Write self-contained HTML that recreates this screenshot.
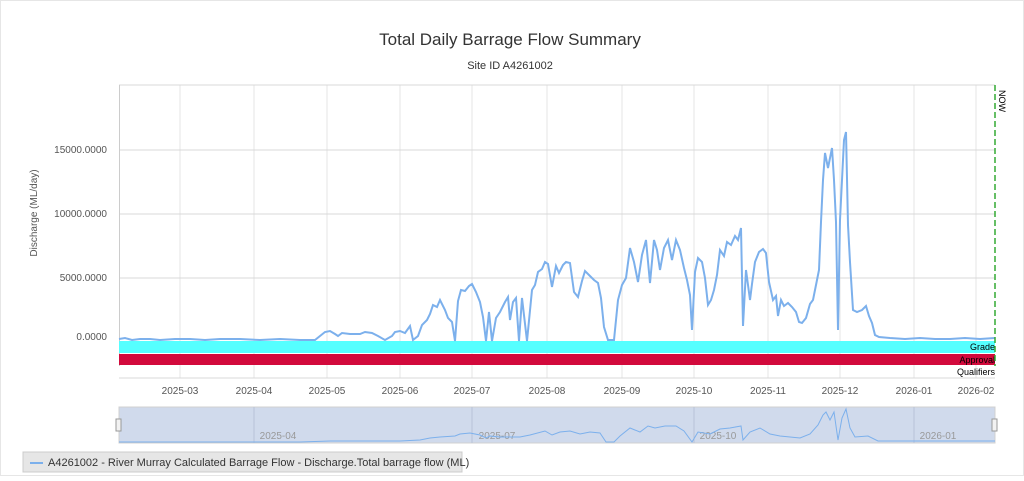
<!DOCTYPE html>
<html><head><meta charset="utf-8"><style>
body{margin:0;background:#fff;width:1024px;height:476px;overflow:hidden;font-family:"Liberation Sans",sans-serif}
</style></head><body>
<svg width="1024" height="476" xmlns="http://www.w3.org/2000/svg" font-family="Liberation Sans, sans-serif">
<rect x="0.5" y="0.5" width="1023" height="475" fill="#fff" stroke="#e6e6e6"/>
<text x="510" y="45" font-size="17" text-anchor="middle" fill="#333">Total Daily Barrage Flow Summary</text>
<text x="510" y="69" font-size="11" text-anchor="middle" fill="#333">Site ID A4261002</text>
<g stroke="#e6e6e6" stroke-width="1">
<line x1="180" y1="85" x2="180" y2="378"/><line x1="254" y1="85" x2="254" y2="378"/><line x1="327" y1="85" x2="327" y2="378"/><line x1="400" y1="85" x2="400" y2="378"/><line x1="472" y1="85" x2="472" y2="378"/><line x1="547" y1="85" x2="547" y2="378"/><line x1="622" y1="85" x2="622" y2="378"/><line x1="694" y1="85" x2="694" y2="378"/><line x1="768" y1="85" x2="768" y2="378"/><line x1="840" y1="85" x2="840" y2="378"/><line x1="914" y1="85" x2="914" y2="378"/><line x1="976" y1="85" x2="976" y2="378"/>
</g>
<g stroke="#d8d8d8"><line x1="119" y1="150" x2="995" y2="150"/><line x1="119" y1="214" x2="995" y2="214"/><line x1="119" y1="278" x2="995" y2="278"/><line x1="119" y1="85" x2="995" y2="85"/><line x1="119" y1="378" x2="995" y2="378"/></g>
<line x1="119.5" y1="85" x2="119.5" y2="366" stroke="#ccc"/>
<g font-size="10" fill="#555" text-anchor="end"><text x="107" y="153">15000.0000</text><text x="107" y="217">10000.0000</text><text x="107" y="281">5000.0000</text><text x="107" y="340">0.0000</text></g>
<text transform="translate(37,213) rotate(-90)" font-size="10" fill="#555" text-anchor="middle">Discharge (ML/day)</text>
<rect x="119" y="341" width="876" height="12" fill="#55ffff"/>
<rect x="119" y="354" width="876" height="11" fill="#d20a3c"/>
<g font-size="9" fill="#000" text-anchor="end"><text x="995" y="350">Grade</text><text x="995" y="363">Approval</text><text x="995" y="375">Qualifiers</text></g>
<polyline fill="none" stroke="#7cb0ec" stroke-width="2" points="119,339 125,338 132,340 140,339 150,339 160,340 175,339 190,339 205,340 220,339 240,339 260,340 280,339 300,340 305,340 315,340 320,336 325,332 330,331 335,334 338,336 342,333 350,334 360,334 365,332 372,333 378,336 385,340 392,336 395,332 400,331 405,333 410,326 413,340 418,336 422,325 427,320 430,314 433,305 437,307 440,300 445,310 448,318 452,322 455,341 458,301 461,290 465,291 469,286 472,284 476,292 480,302 483,317 486,341 489,312 492,341 496,318 500,312 505,302 508,297 510,320 513,302 516,298 519,341 522,298 527,341 532,290 535,285 538,272 542,269 545,262 548,264 552,287 556,266 559,273 563,265 566,262 570,263 574,292 578,297 582,281 585,271 590,276 594,280 598,283 601,298 604,327 608,340 614,340 618,300 622,285 626,278 630,248 634,262 638,282 642,255 646,240 650,283 654,240 657,250 660,270 664,248 668,240 672,260 676,240 680,250 684,268 687,280 690,295 692,330 695,272 698,258 702,262 705,278 708,305 711,300 714,290 717,275 720,250 724,256 727,242 731,245 735,236 738,240 741,228 743,326 746,270 750,300 752,284 755,262 759,252 763,249 766,253 769,282 773,300 776,296 778,316 781,300 784,306 788,303 792,307 796,312 799,322 802,323 806,318 810,304 813,300 816,285 819,270 821,222 823,180 825,153 828,168 830,158 832,148 834,180 836,222 838,330 840,220 842,180 844,140 846,132 848,225 850,262 853,310 857,312 862,310 866,306 869,316 872,323 875,335 879,337 890,338 905,339 920,338 935,339 950,339 965,338 980,339 995,338"/>
<line x1="995" y1="85" x2="995" y2="366" stroke="#3a3" stroke-width="1.5" stroke-dasharray="6,3"/>
<text transform="translate(999,90) rotate(90)" font-size="9" fill="#000">NOW</text>
<g font-size="10" fill="#555" text-anchor="middle"><text x="180" y="394">2025-03</text><text x="254" y="394">2025-04</text><text x="327" y="394">2025-05</text><text x="400" y="394">2025-06</text><text x="472" y="394">2025-07</text><text x="547" y="394">2025-08</text><text x="622" y="394">2025-09</text><text x="694" y="394">2025-10</text><text x="768" y="394">2025-11</text><text x="840" y="394">2025-12</text><text x="914" y="394">2026-01</text><text x="976" y="394">2026-02</text></g>
<rect x="119" y="407" width="876" height="36" fill="#ccd6eb" opacity="0.9" stroke="#ccc"/>
<g stroke="#b8c2d8"><line x1="254" y1="407" x2="254" y2="443"/><line x1="472" y1="407" x2="472" y2="443"/><line x1="694" y1="407" x2="694" y2="443"/><line x1="914" y1="407" x2="914" y2="443"/></g>
<g font-size="10" fill="#999" text-anchor="middle"><text x="278" y="439">2025-04</text><text x="497" y="439">2025-07</text><text x="718" y="439">2025-10</text><text x="938" y="439">2026-01</text></g>
<polyline fill="none" stroke="#7cb0ec" stroke-width="1" points="119,442 300,442 330,441 400,441 420,440 430,438 440,437 455,436 460,434 470,433 480,435 486,438 490,436 500,437 520,437 530,435 545,431 552,435 560,432 570,431 580,434 590,432 600,433 606,442 614,442 620,436 630,428 640,432 648,426 655,428 665,426 676,426 684,431 692,442 698,432 710,434 720,429 730,428 741,426 743,440 750,432 760,428 770,434 780,436 800,438 810,434 818,425 823,415 826,412 830,420 834,412 838,440 842,418 846,409 850,428 855,437 868,436 878,441 995,441"/>
<rect x="116" y="419" width="5" height="12" fill="#f2f2f2" stroke="#999"/>
<rect x="992" y="419" width="5" height="12" fill="#f2f2f2" stroke="#999"/>
<rect x="23" y="452" width="439" height="20" fill="#e6e6e6" stroke="#ccc"/>
<line x1="30" y1="463" x2="43" y2="463" stroke="#7cb0ec" stroke-width="2"/>
<text x="48" y="466" font-size="11" fill="#333">A4261002 - River Murray Calculated Barrage Flow - Discharge.Total barrage flow (ML)</text>
</svg>
</body></html>
